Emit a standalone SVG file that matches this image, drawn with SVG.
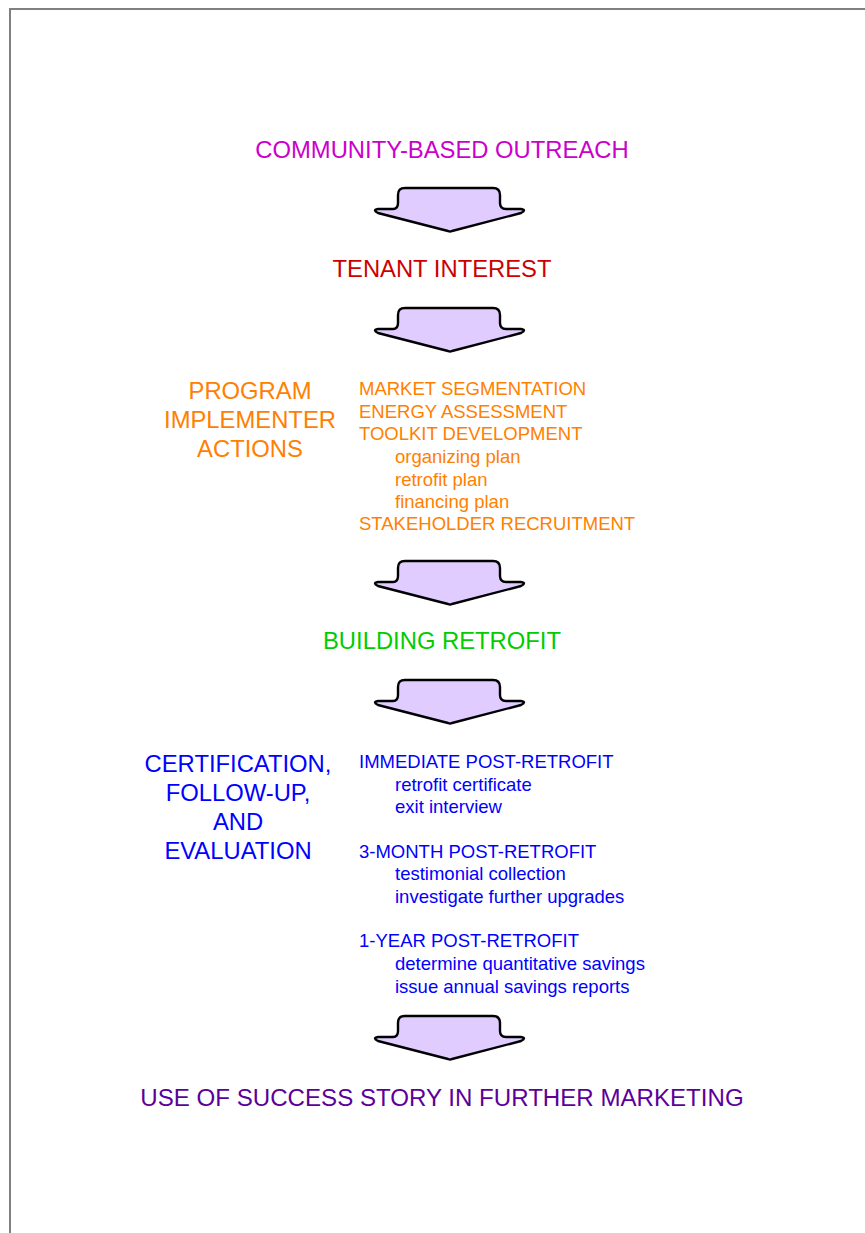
<svg xmlns="http://www.w3.org/2000/svg" width="865" height="1233" viewBox="0 0 865 1233">
  <defs>
    <style>
      text { font-family: "Liberation Sans", Arial, sans-serif; }
      .big { font-size: 23.8px; }
      .small { font-size: 18.5px; }
      .mid { text-anchor: middle; }
      .flow { fill: #e0ccff; stroke: #000000; stroke-width: 2.4; stroke-linejoin: round; }
      .outreach { fill: #cc00cc; }
      .interest { fill: #cc0000; }
      .actions { fill: #ff8000; }
      .retrofit { fill: #00cc00; }
      .evaluation { fill: #0000ff; }
      .marketing { fill: #5c0099; font-size: 24.1px; }
    </style>
    <!-- Downward block arrow between stages, origin at top-left of its stem -->
    <path id="down-arrow" d="M 7 0 H 95 Q 102 0 102 7 V 15 Q 102 21 108 21 H 123 Q 129 22 123 25 L 54 43 Q 52 44 50 43 L -20 25 Q -26 22 -20 21 H -5 Q 0 21 0 15 V 7 Q 0 0 7 0 Z"/>
  </defs>

  <rect width="865" height="1233" fill="#ffffff"/>
  <!-- page frame -->
  <rect x="10" y="9" width="900" height="1300" fill="none" stroke="#808080" stroke-width="2"/>

  <g id="connectors">
    <use href="#down-arrow" class="flow" x="398" y="188"/>
    <use href="#down-arrow" class="flow" x="398" y="308"/>
    <use href="#down-arrow" class="flow" x="398" y="561"/>
    <use href="#down-arrow" class="flow" x="398" y="680"/>
    <use href="#down-arrow" class="flow" x="398" y="1016"/>
  </g>

  <g id="community-outreach">
    <text class="big mid outreach" x="442" y="158">COMMUNITY-BASED OUTREACH</text>
  </g>

  <g id="tenant-interest">
    <text class="big mid interest" x="442" y="277">TENANT INTEREST</text>
  </g>

  <g id="program-actions">
    <text class="big mid actions" x="250" y="399">PROGRAM</text>
    <text class="big mid actions" x="250" y="428">IMPLEMENTER</text>
    <text class="big mid actions" x="250" y="457">ACTIONS</text>
    <text class="small actions" x="359" y="395">MARKET SEGMENTATION</text>
    <text class="small actions" x="359" y="418">ENERGY ASSESSMENT</text>
    <text class="small actions" x="359" y="440">TOOLKIT DEVELOPMENT</text>
    <text class="small actions" x="395" y="463">organizing plan</text>
    <text class="small actions" x="395" y="486">retrofit plan</text>
    <text class="small actions" x="395" y="508">financing plan</text>
    <text class="small actions" x="359" y="530">STAKEHOLDER RECRUITMENT</text>
  </g>

  <g id="building-retrofit">
    <text class="big mid retrofit" x="442" y="649">BUILDING RETROFIT</text>
  </g>

  <g id="certification">
    <text class="big mid evaluation" x="238" y="772">CERTIFICATION,</text>
    <text class="big mid evaluation" x="238" y="801">FOLLOW-UP,</text>
    <text class="big mid evaluation" x="238" y="830">AND</text>
    <text class="big mid evaluation" x="238" y="859">EVALUATION</text>
    <text class="small evaluation" x="359" y="768">IMMEDIATE POST-RETROFIT</text>
    <text class="small evaluation" x="395" y="791">retrofit certificate</text>
    <text class="small evaluation" x="395" y="813">exit interview</text>
    <text class="small evaluation" x="359" y="858">3-MONTH POST-RETROFIT</text>
    <text class="small evaluation" x="395" y="880">testimonial collection</text>
    <text class="small evaluation" x="395" y="903">investigate further upgrades</text>
    <text class="small evaluation" x="359" y="947">1-YEAR POST-RETROFIT</text>
    <text class="small evaluation" x="395" y="970">determine quantitative savings</text>
    <text class="small evaluation" x="395" y="993">issue annual savings reports</text>
  </g>

  <g id="success-story">
    <text class="big mid marketing" x="442" y="1106">USE OF SUCCESS STORY IN FURTHER MARKETING</text>
  </g>
</svg>
